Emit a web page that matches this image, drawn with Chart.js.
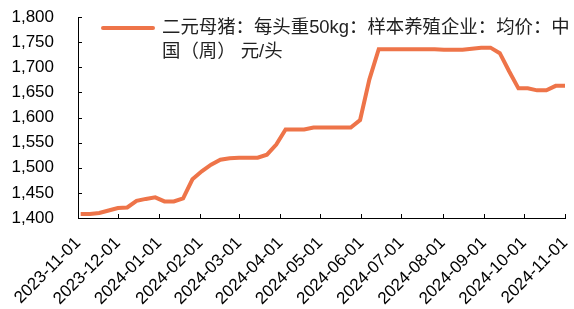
<!DOCTYPE html>
<html>
<head>
<meta charset="utf-8">
<script src="https://cdn.jsdelivr.net/npm/chart.js@4.4.1/dist/chart.umd.min.js"></script>
<style>
  html, body { margin: 0; padding: 0; background: #fff; }
  #wrap { position: relative; width: 574px; height: 309px; }
  #legend {
    position: absolute; left: 101px; top: 15px;
    font-family: "Liberation Sans", "Noto Sans CJK SC", sans-serif;
    font-size: 18.4px; line-height: 24px; color: #222;
  }
  #legend .swatch {
    position: absolute; left: 0; top: 11px; width: 54px; height: 4px;
    background: #EE7449; border-radius: 2px;
  }
  #legend .txt { margin-left: 61px; white-space: nowrap; }
</style>
</head>
<body>
<div id="wrap">
  <canvas id="myChart" width="574" height="309"></canvas>
  <div id="legend"><div class="swatch"></div><div class="txt">二元母猪：每头重50kg：样本养殖企业：均价：中<br>国（周） 元/头</div></div>
</div>
<script>
var weeks = ['2023-11-03', '2023-11-10', '2023-11-17', '2023-11-24', '2023-12-01', '2023-12-08',
    '2023-12-15', '2023-12-22', '2023-12-29', '2024-01-05', '2024-01-12', '2024-01-19', '2024-01-26',
    '2024-02-02', '2024-02-09', '2024-02-16', '2024-02-23', '2024-03-01', '2024-03-08', '2024-03-15',
    '2024-03-22', '2024-03-29', '2024-04-05', '2024-04-12', '2024-04-19', '2024-04-26', '2024-05-03',
    '2024-05-10', '2024-05-17', '2024-05-24', '2024-05-31', '2024-06-07', '2024-06-14', '2024-06-21',
    '2024-06-28', '2024-07-05', '2024-07-12', '2024-07-19', '2024-07-26', '2024-08-02', '2024-08-09',
    '2024-08-16', '2024-08-23', '2024-08-30', '2024-09-06', '2024-09-13', '2024-09-20', '2024-09-27',
    '2024-10-04', '2024-10-11', '2024-10-18', '2024-10-25', '2024-11-01'];

var prices = [1408, 1408, 1410, 1415, 1420, 1421, 1434, 1438, 1441, 1433, 1433, 1439, 1477,
    1493, 1506, 1516, 1519, 1520, 1520, 1520, 1526, 1546, 1576, 1576, 1576, 1580, 1580,
    1580, 1580, 1580, 1595, 1676, 1736, 1736, 1736, 1736, 1736, 1736, 1736, 1735, 1735,
    1735, 1737, 1739, 1739, 1728, 1692, 1658, 1658, 1654, 1654, 1663, 1663];

var tickLabels = ['2023-11-01', '2023-12-01', '2024-01-01', '2024-02-01', '2024-03-01', '2024-04-01',
    '2024-05-01', '2024-06-01', '2024-07-01', '2024-08-01', '2024-09-01', '2024-10-01', '2024-11-01'];

var yMin = 1400, yMax = 1800, yStep = 50;

// days since the first tick date
function dayOf(s) {
    var p = s.split('-');
    return (Date.UTC(+p[0], +p[1] - 1, +p[2]) - Date.UTC(2023, 10, 1)) / 86400000;
}

var points = weeks.map(function (d, i) { return { x: dayOf(d), y: prices[i] }; });
var tickDays = tickLabels.map(dayOf);

// ticks drawn inward, as in the original
var innerTicks = {
    id: 'innerTicks',
    afterDraw: function (chart) {
        var ctx = chart.ctx, area = chart.chartArea;
        var xs = chart.scales.x, ys = chart.scales.y;
        ctx.save();
        ctx.strokeStyle = '#000';
        ctx.lineWidth = 1;
        ctx.beginPath();
        ys.ticks.forEach(function (t) {
            var y = Math.round(ys.getPixelForValue(t.value)) + 0.5;
            ctx.moveTo(area.left, y);
            ctx.lineTo(area.left + 4, y);
        });
        xs.ticks.forEach(function (t) {
            var x = Math.round(xs.getPixelForValue(t.value)) + 0.5;
            ctx.moveTo(x, area.bottom);
            ctx.lineTo(x, area.bottom - 4);
        });
        ctx.stroke();
        ctx.restore();
    }
};

var ctx = document.getElementById('myChart').getContext('2d');
var myChart = new Chart(ctx, {
    type: 'line',
    data: {
        datasets: [{
            label: '二元母猪：每头重50kg：样本养殖企业：均价：中国（周） 元/头',
            data: points,
            borderColor: '#EE7449',
            borderWidth: 4,
            pointRadius: 0,
            tension: 0,
            fill: false
        }]
    },
    options: {
        responsive: false,
        animation: false,
        layout: { padding: { top: 17, right: 9, left: 0, bottom: 0 } },
        plugins: {
            legend: { display: false },
            tooltip: { enabled: false }
        },
        scales: {
            x: {
                type: 'linear',
                min: tickDays[0],
                max: tickDays[tickDays.length - 1],
                afterBuildTicks: function (scale) {
                    scale.ticks = tickDays.map(function (d) { return { value: d }; });
                },
                afterFit: function (scale) {
                    scale.height = 91;
                    scale.paddingLeft = 0;
                    scale.paddingRight = 0;
                },
                grid: { display: true, drawOnChartArea: false, drawTicks: false },
                border: { display: true, color: '#000', width: 1 },
                ticks: {
                    autoSkip: false,
                    maxRotation: 45,
                    minRotation: 45,
                    padding: 15,
                    color: '#000',
                    font: { family: '"Liberation Sans", Arial, sans-serif', size: 17 },
                    callback: function (v) {
                        var i = tickDays.indexOf(v);
                        return i >= 0 ? tickLabels[i] : '';
                    }
                }
            },
            y: {
                min: yMin,
                max: yMax,
                afterFit: function (scale) {
                    scale.width = 78;
                    scale.paddingTop = 0;
                    scale.paddingBottom = 0;
                },
                grid: { display: true, drawOnChartArea: false, drawTicks: false },
                border: { display: true, color: '#000', width: 1 },
                ticks: {
                    stepSize: yStep,
                    padding: 24,
                    color: '#000',
                    font: { family: '"Liberation Sans", Arial, sans-serif', size: 17 }
                }
            }
        }
    },
    plugins: [innerTicks]
});
</script>
</body>
</html>
